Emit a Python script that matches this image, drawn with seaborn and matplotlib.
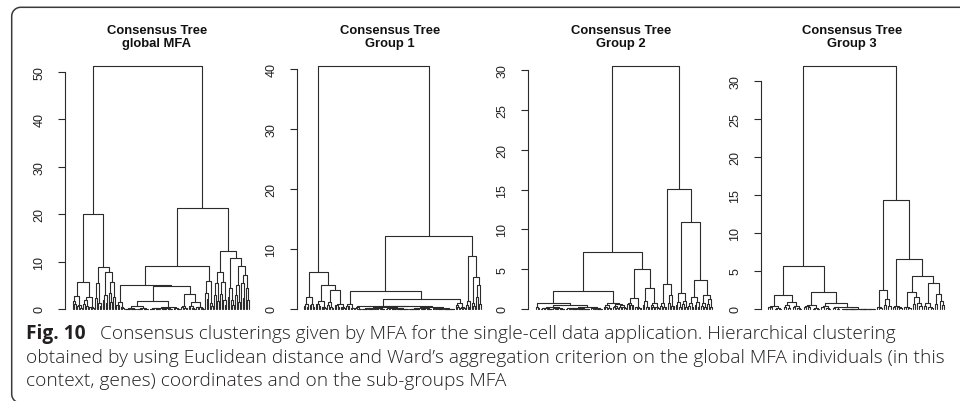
import numpy as np
import pandas as pd
import matplotlib
matplotlib.use('Agg')
import matplotlib.pyplot as plt
import seaborn as sns

sns.set_style('white')
plt.rcParams['font.family'] = ['Liberation Sans', 'DejaVu Sans']

# tiny low-level twigs (merge heights) reused in the flat parts of the trees
twig_a = [0.12, 0.08, 0.06, 0.05, 0.04, 0.03, 0.02]
twig_b = [0.15, 0.1, 0.07, 0.05, 0.03, 0.02, 0.01]
twig_c = [0.05, 0.04, 0.03, 0.02, 0.02, 0.01, 0.01]

# node = (merge height, left, right); a list = small bush of descending merge heights
tree_global = (51.3,
    (20.1,
        (5.6, [2.7, 1.6, 1.1, 0.9, 0.6, 0.3], [2.6, 1.9, 1.0, 0.7, 0.5, 0.4, 0.2]),
        (8.9, [5.4, 2.4, 1.2, 0.7],
              (7.8, [3.0, 1.8, 1.2], (5.6, [3.4, 1.5], [2.6])))),
    (21.3,
        (9.0,
            (5.1, [1.4, 0.9, 0.6, 0.4, 0.2],
                  (4.75, (1.7, (0.6, twig_a, twig_b),
                               (0.5, (0.3, twig_b, twig_a), [0.2, 0.1, 0.05, 0.03])),
                         (3.1, [0.7, 0.4, 0.3, 0.15],
                               (1.4, [0.6, 0.4, 0.2, 0.1], [0.5, 0.35, 0.25, 0.15, 0.1])))),
            [5.9, 3.4, 2.2, 1.3, 0.6]),
        (12.2,
            (7.8, [5.5, 3.0, 1.6], [5.6, 3.2, 2.0, 0.9]),
            (10.8, [4.5, 2.6, 1.8, 0.9],
                   (9.0, [5.0, 3.0, 1.5], (7.1, [5.5, 2.4], [4.5, 2.0]))))))

tree_group1 = (40.6,
    (6.1,
        (1.95, [0.8, 0.5, 0.3], [0.9, 0.6, 0.3]),
        (4.05, [1.4, 0.9, 0.6, 0.5, 0.4, 0.3, 0.2],
               (3.2, [1.2, 0.7, 0.4, 0.2], [0.9, 0.6, 0.5, 0.4, 0.3, 0.25, 0.2]))),
    (12.2,
        (2.95, [0.8, 0.5, 0.3, 0.2, 0.1],
               (1.67, (0.55, [0.3, 0.1, 0.05, 0.02],
                             (0.45, (0.3, (0.2, twig_a, twig_b), (0.25, twig_b, twig_c)),
                                    (0.35, (0.2, twig_c, twig_a), (0.15, twig_b, twig_c)))),
                      [1.0, 0.6, 0.4, 0.3, 0.2, 0.1])),
        (8.8, [1.4, 0.7, 0.3], (5.3, [1.0, 0.5], [4.0, 2.0, 0.8]))))

tree_group2 = (30.6,
    (7.12,
        (2.3,
            (0.7, [0.3, 0.15],
                  (0.55, (0.3, twig_a, twig_b), (0.22, (0.15, twig_a, twig_c), twig_b))),
            (0.75, [0.5, 0.3, 0.2, 0.1, 0.05], (0.6, [0.4, 0.2, 0.1], [0.5, 0.3, 0.2, 0.1]))),
        (5.0, [1.34, 0.8, 0.6, 0.5, 0.4, 0.3, 0.2, 0.1, 0.05],
              (2.7, [1.0, 0.5, 0.3, 0.2], [0.8, 0.5, 0.3, 0.2, 0.1]))),
    (15.07,
        (3.14, [0.7, 0.4, 0.2, 0.1], [1.8, 0.8, 0.4, 0.2]),
        (10.97, (1.97, [0.9, 0.5, 0.2], [1.0, 0.6, 0.3]),
                (3.7, (1.47, [0.8, 0.4, 0.2], [0.9, 0.5, 0.2]),
                      (1.8, [0.7, 0.4, 0.2], [1.2, 0.6, 0.3])))))

tree_group3 = (32.0,
    (5.69,
        (1.88, [0.4, 0.3, 0.2, 0.1, 0.05, 0.03], (0.88, [0.5, 0.3, 0.1], [0.4, 0.2, 0.1, 0.05])),
        (2.19, [0.5, 0.4, 0.3, 0.2, 0.1, 0.05, 0.03],
               (0.75, [0.4, 0.2, 0.1, 0.05], (0.3, [0.2, 0.1, 0.05], (0.06, twig_c, twig_c))))),
    (14.36,
        (2.5, [0.3, 0.1], (1.3, [0.5], [0.4])),
        (6.57, [0.4, 0.3, 0.2, 0.1],
               (4.38, (2.19, [0.3, 0.2, 0.1], (1.54, [0.6], [0.8, 0.4])),
                      (3.37, [0.8, 0.4, 0.2, 0.1], (1.97, [0.6], [1.0, 0.5]))))))

trees = [tree_global, tree_group1, tree_group2, tree_group3]
titles = ['Consensus Tree\nglobal MFA', 'Consensus Tree\nGroup 1',
          'Consensus Tree\nGroup 2', 'Consensus Tree\nGroup 3']
yticks = [[0, 10, 20, 30, 40, 50], [0, 10, 20, 30, 40],
          [0, 5, 10, 15, 20, 25, 30], [0, 5, 10, 15, 20, 25, 30]]

caption_bold = 'Fig. 10'
caption_lines = ['Consensus clusterings given by MFA for the single-cell data application. Hierarchical clustering',
                 'obtained by using Euclidean distance and Ward\u2019s aggregation criterion on the global MFA individuals (in this',
                 'context, genes) coordinates and on the sub-groups MFA']

# layout in pixels (figure is 960 x 402)
W, H = 960, 402
spine_px = [65, 296.7, 528, 760.7]
first_leaf_px = [72.7, 304, 536, 768]
last_leaf_px = [249, 480.7, 712, 944]
title_px = [157, 390, 621, 852]
base_px, top_px = 310, 66.7
line_col = '#2b2b2b'


def bush(hs):
    if not hs:
        return None
    k = 1 + (len(hs) - 1) // 2
    return (hs[0], bush(hs[1:k]), bush(hs[k:]))


def walk(node, segs, counter):
    if isinstance(node, list):
        node = bush(node)
    if node is None:
        x = counter[0]
        counter[0] += 1
        return x, 0.0
    h, a, b = node
    xa, ha = walk(a, segs, counter)
    xb, hb = walk(b, segs, counter)
    segs.append([(xa, ha), (xa, h), (xb, h), (xb, hb)])
    return (xa + xb) / 2, h


fig = plt.figure(figsize=(W / 100, H / 100), dpi=100)

for i, tree in enumerate(trees):
    segs = []
    counter = [0]
    walk(tree, segs, counter)
    n = counter[0]
    rows = [(j, px, py) for j, s in enumerate(segs) for px, py in s]
    df = pd.DataFrame(rows, columns=['seg', 'x', 'y'])

    left, right = spine_px[i], last_leaf_px[i] + 4
    ax = fig.add_axes([left / W, (H - base_px) / H, (right - left) / W, (base_px - top_px) / H])
    sns.lineplot(data=df, x='x', y='y', units='seg', estimator=None, sort=False,
                 color=line_col, lw=0.8, ax=ax, clip_on=False)
    s = (last_leaf_px[i] - first_leaf_px[i]) / (n - 1)
    ax.set_xlim(-(first_leaf_px[i] - left) / s, (n - 1) + (right - last_leaf_px[i]) / s)
    ax.set_ylim(0, tree[0])
    ax.set_xticks([])
    ax.set_yticks(yticks[i])
    ax.set_xlabel('')
    ax.set_ylabel('')
    for sp in ['top', 'right', 'bottom']:
        ax.spines[sp].set_visible(False)
    ax.spines['left'].set_bounds(yticks[i][0], yticks[i][-1])
    ax.spines['left'].set_color(line_col)
    ax.spines['left'].set_linewidth(0.8)
    ax.tick_params(axis='y', left=True, length=5, width=0.8, color=line_col, pad=9,
                   labelsize=9, labelcolor='#222222', labelrotation=90)
    for lab in ax.get_yticklabels():
        lab.set_va('center')
    ax.patch.set_alpha(0)
    fig.text(title_px[i] / W, 1 - 37.5 / H, titles[i], ha='center', va='center',
             fontsize=9.4, fontweight='bold', linespacing=1.15, color='#111111')

# frame around the figure block (top and left edges, rounded corners)
ov = fig.add_axes([0, 0, 1, 1], zorder=-1)
ov.set_xlim(0, W)
ov.set_ylim(H, 0)
ov.axis('off')
r, fx, fy, fb = 9, 11.7, 8.3, 404
t1 = np.linspace(-np.pi / 2, -np.pi, 20)
t2 = np.linspace(np.pi, np.pi / 2, 20)
frame_x = np.concatenate([[W + 5], fx + r + r * np.cos(t1), fx + r + r * np.cos(t2), [W + 5]])
frame_y = np.concatenate([[fy], fy + r + r * np.sin(t1), fb - r + r * np.sin(t2), [fb]])
ov.plot(frame_x, frame_y, color='#3a3a3a', lw=1.1, clip_on=False)

# caption
cap_font = ['Open Sans', 'DejaVu Sans']
cap_col = '#231f20'
baselines = [339.3, 363.0, 386.5]
renderer = fig.canvas.get_renderer()
probe = fig.text(26 / W, 1 - baselines[1] / H, caption_lines[1], family=cap_font,
                 fontsize=10, color=cap_col, va='baseline', fontweight='light')
wpx = probe.get_window_extent(renderer).width
cap_size = 10 * (942.7 - 26) / wpx
probe.set_fontsize(cap_size)
fig.text(26 / W, 1 - baselines[0] / H, caption_bold, family=cap_font,
         fontsize=cap_size, fontweight='bold', color=cap_col, va='baseline')
first = fig.text(100 / W, 1 - baselines[0] / H, caption_lines[0], family=cap_font,
                 fontsize=cap_size, color=cap_col, va='baseline', fontweight='light')
# keep the first line ending where the reference ends it
w1 = first.get_window_extent(renderer).width
if w1 > 797:
    first.set_fontsize(cap_size * 797 / w1)
fig.text(26 / W, 1 - baselines[2] / H, caption_lines[2], family=cap_font,
         fontsize=cap_size, color=cap_col, va='baseline', fontweight='light')

fig.savefig('out.png', dpi=100)
